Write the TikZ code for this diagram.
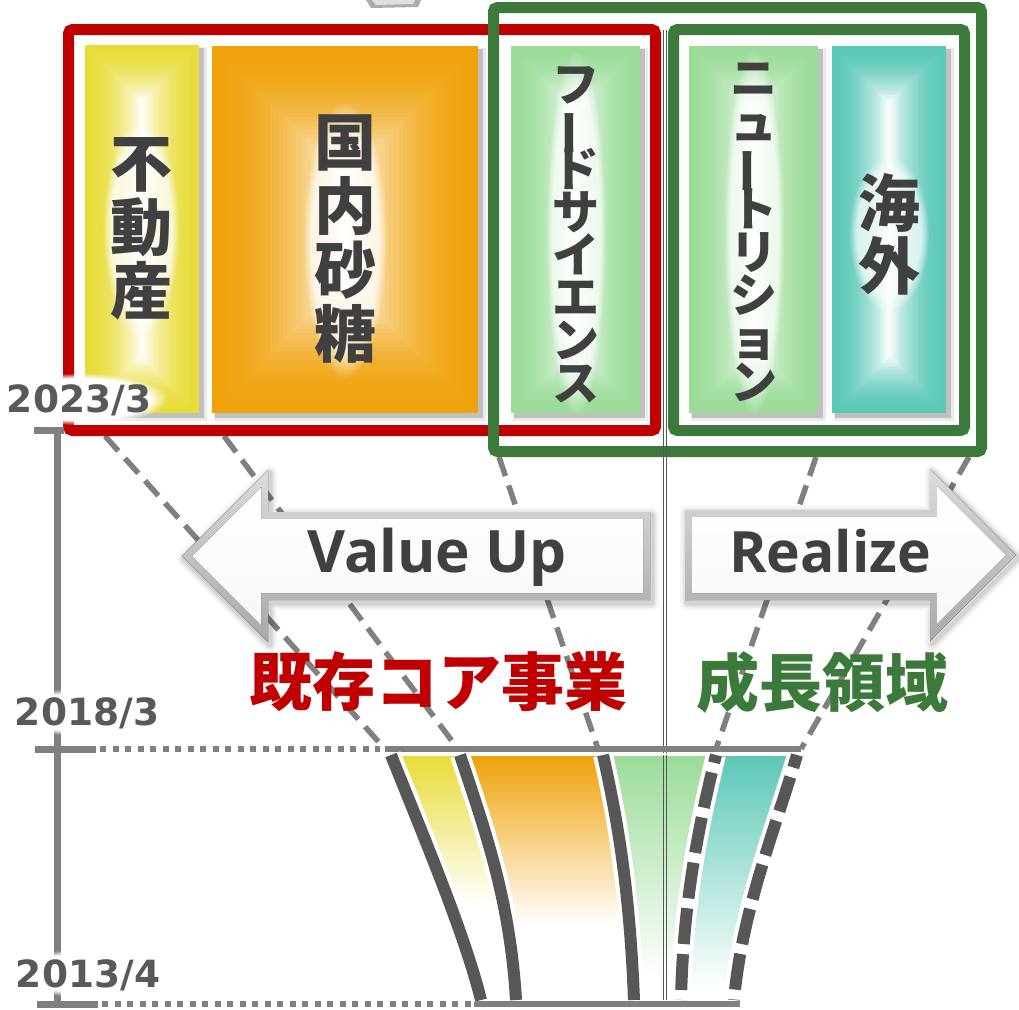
\documentclass[tikz,border=0pt]{standalone}
\usepackage{fontspec}
\usepackage{graphicx}
\newfontfamily\jp{Noto Sans CJK JP}
\newfontfamily\lat{Open Sans}
\newfontfamily\dvs{DejaVu Sans}
\usetikzlibrary{calc,fadings}
\definecolor{boxred}{HTML}{C00000}
\definecolor{boxgreen}{HTML}{3B7A3B}
\definecolor{txt}{HTML}{404040}
\definecolor{dategray}{HTML}{595959}
\definecolor{linegray}{HTML}{808080}
\definecolor{darkline}{HTML}{575757}
\definecolor{cyel}{HTML}{E8DC3A}
\definecolor{corg}{HTML}{EFA20B}
\definecolor{cgrn}{HTML}{9BDC99}
\definecolor{cteal}{HTML}{5CC8B7}
\newcommand\vbar{\rotatebox[origin=c]{90}{ー}}
\newcommand\tightlines{\lineskiplimit=-60pt\relax\lineskip=0pt\relax}
\newcommand\jpbigfont{\jp\bfseries\fontsize{62}{64}\selectfont\tightlines}
\newcommand\jpkaigaifont{\jp\bfseries\fontsize{62}{63}\selectfont\tightlines}
\newcommand\jpkanaAfont{\jp\bfseries\fontsize{47}{42.7}\selectfont\tightlines}
\newcommand\jpkanaBfont{\jp\bfseries\fontsize{47}{43.4}\selectfont\tightlines}
% soft white halo: #1 coordinate, #2 x radius, #3 y radius, #4 opacity
\newcommand\halo[4]{%
  \fill[white, opacity=#4, path fading=circle with fuzzy edge 20 percent, fit fading=true] #1 ellipse ({#2} and {#3});
}
% gradient box: #1 x1 #2 y1 #3 x2 #4 y2 #5 colour
\newcommand\gradbox[5]{%
  \fill[black,opacity=0.08] ({#1+2},{#2+2}) rectangle ({#3+8},{#4+8});
  \fill[black,opacity=0.18] ({#1+3},{#2+3}) rectangle ({#3+5},{#4+5});
  \pgfmathsetmacro\bw{(#3-#1)/2}
  \pgfmathsetmacro\bh{(#4-#2)/2}
  \pgfmathsetmacro\bm{min(\bw,\bh)}
  \foreach \i in {0,...,29}{%
    \pgfmathsetmacro\dd{\i*\bm/30}
    \pgfmathsetmacro\pc{100*(1-(\i/30)^1.9)}
    \fill[#5!\pc!white] ({#1+\dd},{#2+\dd}) rectangle ({#3-\dd},{#4-\dd});
  }
}
\begin{document}
\begin{tikzpicture}[x=1pt,y=-1pt,
  dline/.style={linegray, line width=5.5pt, dash pattern=on 20pt off 10pt},
  axisline/.style={linegray, line width=7pt},
  dotline/.style={linegray, line width=6pt, dash pattern=on 6pt off 6.5pt},
  fstroke/.style={darkline, line width=12pt},
  fwhite/.style={white, line width=20pt},
  fdash/.style={darkline, line width=12pt, dash pattern=on 36pt off 10pt},
  frame/.style={line width=11pt, rounded corners=4pt},
  vtext/.style={inner sep=0pt, align=center, text=txt},
  datelabel/.style={font=\dvs\bfseries\fontsize{37.5}{37.5}\selectfont, text=dategray, anchor=base, inner sep=0pt},
  arrowtext/.style={font=\lat\bfseries\fontsize{58.5}{58.5}\selectfont, text=txt, anchor=base},
  biglabel/.style={font=\jp\bfseries\fontsize{63}{63}\selectfont},
]
\useasboundingbox (0,0) rectangle (1019,1009);
\fill[white] (0,0) rectangle (1019,1009);

% small grey fragment at top
\fill[gray!65] (366,0) -- (421,0) -- (418,7) -- (371,8) -- cycle;
\fill[gray!25] (372,0) -- (415,0) -- (413,4) -- (376,5) -- cycle;

% dashed connectors from the boxes to the 2018 line
\coordinate (t1) at (105,436); \coordinate (b1) at (385,749);
\coordinate (t2) at (224,436); \coordinate (b2) at (458,749);
\coordinate (t3) at (499,457); \coordinate (b3) at (598,749);
\coordinate (t4) at (816,457); \coordinate (b4) at (716,749);
\coordinate (t5) at (969,457); \coordinate (b5) at (801,749);
\draw[dline] (t1) -- (b1);
\draw[dline] (t2) -- (b2);
\draw[dline] (t3) -- (b3);
\draw[dline] (t4) -- (b4);
\draw[dline] (t5) -- (b5);

% coloured boxes
\gradbox{85}{45}{199}{413}{cyel}
\gradbox{212}{46}{478}{413}{corg}
\gradbox{511}{46}{640}{413}{cgrn}
\gradbox{689}{46}{818}{413}{cgrn}
\gradbox{832}{46}{946}{413}{cteal}

% frames
\draw[frame, boxred] (68.5,29.5) rectangle (655.5,430.5);
\draw[frame, boxgreen] (493.5,7.5) rectangle (981.5,451.5);
\draw[frame, boxgreen] (673.5,29.5) rectangle (964.5,430.5);

% double vertical separator
\draw[darkline, line width=1.3pt] (663.3,30) -- (663.3,1000);
\draw[darkline, line width=1.3pt] (666.8,30) -- (666.8,1000);

% halos behind the box texts
\halo{(141,229)}{38}{108}{0.75}
\halo{(345,240)}{42}{138}{0.75}
\halo{(576,234)}{30}{182}{0.7}
\halo{(754,232)}{30}{182}{0.7}
\halo{(889,234)}{40}{78}{0.7}

% box texts (vertical)
\node[vtext, font=\jpbigfont] (fudosan) at (141,229) {不\\動\\産};
\node[vtext, font=\jpbigfont] (sugar) at (345,239.5) {国\\内\\砂\\糖};
\node[vtext, font=\jpkanaAfont] (food) at (576,234.5) {フ\\\vbar\\ド\\サ\\イ\\エ\\ン\\ス};
\node[vtext, font=\jpkanaBfont] (nutr) at (754,232.5) {ニ\\ュ\\\vbar\\ト\\リ\\シ\\ョ\\ン};
\node[vtext, font=\jpkaigaifont] (kaigai) at (889,234.5) {海\\外};

% Value Up arrow
\foreach \w/\o in {14/0.04,9/0.06,5/0.08}{
  \draw[black,opacity=\o,line width=\w,line join=round,shift={(2,3)}]
    (182,556) -- (268,470) -- (268,512) -- (650,512) -- (650,600) -- (268,600) -- (268,642) -- cycle;}
\fill[top color=gray!28, bottom color=gray!68]
  (182,556) -- (268,470) -- (268,512) -- (650,512) -- (650,600) -- (268,600) -- (268,642) -- cycle;
\fill[top color=white, bottom color=gray!6]
  (192,556) -- (261,487) -- (261,519) -- (643,519) -- (643,593) -- (261,593) -- (261,625) -- cycle;
\node[arrowtext] (valueup) at (437,572) {Value Up};

% Realize arrow
\foreach \w/\o in {14/0.04,9/0.06,5/0.08}{
  \draw[black,opacity=\o,line width=\w,line join=round,shift={(2,3)}]
    (685,510) -- (930,510) -- (930,469) -- (1016,555) -- (930,641) -- (930,600) -- (685,600) -- cycle;}
\fill[top color=gray!28, bottom color=gray!68]
  (685,510) -- (930,510) -- (930,469) -- (1016,555) -- (930,641) -- (930,600) -- (685,600) -- cycle;
\fill[top color=white, bottom color=gray!6]
  (692,517) -- (937,517) -- (937,486) -- (1006,555) -- (937,624) -- (937,593) -- (692,593) -- cycle;
\node[arrowtext, font=\lat\bfseries\fontsize{57}{57}\selectfont] (realize) at (830,572) {Realize};

% group labels
\node[biglabel, text=boxred] (core) at (438,682) {既存コア事業};
\node[biglabel, text=boxgreen] (growth) at (822,682) {成長領域};

% time axis
\draw[axisline] (57,430) -- (57,1004);
\draw[axisline] (34,430) -- (64,430);
\draw[axisline] (35,749) -- (96,749);
\draw[axisline] (37,1004) -- (98,1004);
\draw[dotline] (100,749) -- (380,749);
\draw[dotline] (102,1004) -- (472,1004);
\draw[linegray, line width=6pt] (b1) -- (b5);
\draw[linegray, line width=6pt] (474,1004) -- (740,1004);

% funnel fills
\begin{scope}
  \clip (391,756) .. controls (425,840) and (465,935) .. (481,1000) -- (516,1000) .. controls (510,900) and (485,830) .. (460,756) -- cycle;
  \fill[top color=cyel, bottom color=white] (370,756) rectangle (830,905);
\end{scope}
\begin{scope}
  \clip (460,756) .. controls (485,830) and (510,900) .. (516,1000) -- (634,1000) .. controls (630,900) and (620,830) .. (603,756) -- cycle;
  \fill[top color=corg, bottom color=white] (370,756) rectangle (830,925);
\end{scope}
\begin{scope}
  \clip (603,756) .. controls (620,830) and (630,900) .. (634,1000) -- (681,1000) .. controls (683,900) and (700,820) .. (716,756) -- cycle;
  \fill[top color=cgrn, bottom color=white] (370,756) rectangle (830,978);
\end{scope}
\begin{scope}
  \clip (716,756) .. controls (700,820) and (683,900) .. (681,1000) -- (734,1000) .. controls (742,910) and (775,830) .. (797,756) -- cycle;
  \fill[top color=cteal, bottom color=white] (370,756) rectangle (830,988);
\end{scope}
\draw[darkline, line width=1.3pt] (663.3,756) -- (663.3,1000);
\draw[darkline, line width=1.3pt] (666.8,756) -- (666.8,1000);

% funnel strokes
\draw[fwhite] (391,755) .. controls (425,840) and (465,935) .. (481,1000);
\draw[fwhite] (460,755) .. controls (485,830) and (510,900) .. (516,1000);
\draw[fwhite] (603,755) .. controls (620,830) and (630,900) .. (634,1000);
\draw[fwhite] (716,755) .. controls (700,820) and (683,900) .. (681,1000);
\draw[fwhite] (797,755) .. controls (775,830) and (742,910) .. (734,1000);
\fill[white] (370,752.5) rectangle (830,755);
\fill[white] (370,1000) rectangle (830,1001);
\draw[fstroke] (391,755) .. controls (425,840) and (465,935) .. (481,1000);
\draw[fstroke] (460,755) .. controls (485,830) and (510,900) .. (516,1000);
\draw[fstroke] (603,755) .. controls (620,830) and (630,900) .. (634,1000);
\draw[fdash, dash phase=28pt] (716,755) .. controls (700,820) and (683,900) .. (681,1000);
\draw[fdash, dash phase=23pt] (797,755) .. controls (775,830) and (742,910) .. (734,1000);

% date labels with soft halo
\halo{(79,399)}{88}{26}{1}
\halo{(87,712)}{86}{24}{1}
\halo{(88,973)}{86}{24}{1}
\node[datelabel] (d2023) at (79,412) {2023/3};
\node[datelabel] (d2018) at (87,725) {2018/3};
\node[datelabel] (d2013) at (88,987) {2013/4};
\end{tikzpicture}
\end{document}
